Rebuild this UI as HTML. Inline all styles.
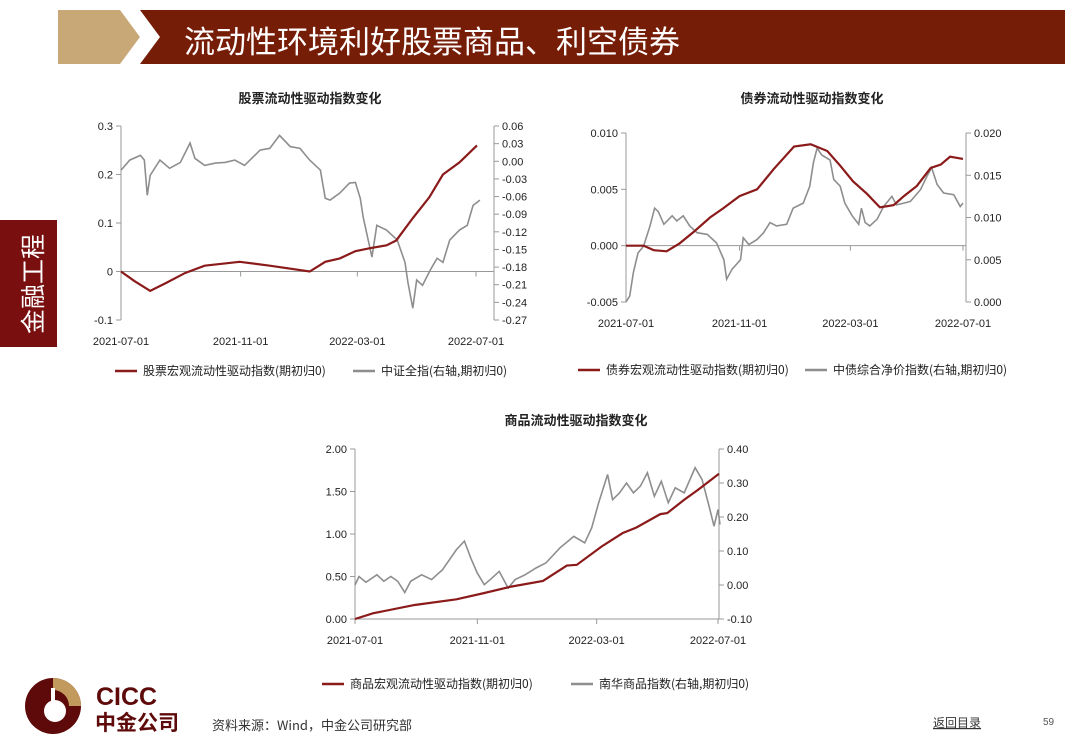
<!DOCTYPE html>
<html><head><meta charset="utf-8"><style>
body{margin:0;width:1080px;height:755px;background:#fff;overflow:hidden;font-family:"Liberation Sans","Noto Sans CJK SC",sans-serif;}
svg{position:absolute;left:0;top:0}
</style></head><body>
<svg id="s" width="1080" height="755" xmlns="http://www.w3.org/2000/svg">
<polygon points="58,10 120,10 140,37 120,64 58,64" fill="#c9a878"/>
<polygon points="140,10 1065,10 1065,64 140,64 160,37" fill="#761d08"/>
<text x="184" y="53" fill="#fff" font-size="31" font-family="Noto Sans CJK SC,sans-serif">流动性环境利好股票商品、利空债券</text>
<rect x="0" y="220" width="57" height="127" fill="#7a0f0f"/>
<text x="0" y="0" transform="translate(42,334) rotate(-90)" fill="#fff" font-size="25" font-family="Noto Sans CJK SC,sans-serif">金融工程</text>
<g>
<circle cx="53" cy="706" r="28" fill="#5e0a0a"/>
<path d="M53,678 A28,28 0 0,1 81,706 L69,706 A16,16 0 0,0 53,690 Z" fill="#c29a5e"/>
<circle cx="55" cy="711" r="11" fill="#fff"/>
<rect x="51" y="688" width="4" height="20" fill="#fff"/>
<text x="96" y="705" fill="#5e0a0a" font-size="25" font-weight="bold">CICC</text>
<text x="95" y="730" fill="#5e0a0a" font-size="21" font-weight="bold" font-family="Noto Sans CJK SC,sans-serif">中金公司</text>
</g>
<text x="212" y="730" font-size="13" fill="#333" font-family="Noto Sans CJK SC,sans-serif">资料来源：Wind，中金公司研究部</text>
<text x="933" y="727" font-size="12" fill="#333" text-decoration="underline" font-family="Noto Sans CJK SC,sans-serif">返回目录</text>
<text x="1043" y="725" font-size="10" fill="#555">59</text>
</svg>
<script>
// date ticks (days from 2021-07-01)
const tickDays=[0,123,243,365];
const tickLabels=["2021-07-01","2021-11-01","2022-03-01","2022-07-01"];
// Chart 1: stock
const c1RedDays=[0,14,30,45,66,86,122,153,194,202,210,225,241,256,273,283,300,317,331,348,366];
const c1RedVals=[0,-0.02,-0.04,-0.025,-0.003,0.012,0.02,0.012,0,0.01,0.02,0.027,0.042,0.048,0.054,0.064,0.11,0.153,0.2,0.225,0.26];
const c1GrayDays=[0,9,20,24,27,30,40,50,61,71,76,86,97,107,117,127,143,153,163,174,184,194,205,210,215,225,235,241,246,249,258,263,273,284,292,295,300,304,310,318,325,331,338,348,356,362,369];
const c1GrayVals=[-0.015,0.002,0.01,0.002,-0.058,-0.024,0.002,-0.012,-0.002,0.031,0.005,-0.007,-0.003,-0.002,0.002,-0.007,0.019,0.022,0.044,0.025,0.022,0.002,-0.015,-0.063,-0.066,-0.054,-0.037,-0.036,-0.063,-0.095,-0.163,-0.109,-0.117,-0.134,-0.172,-0.206,-0.25,-0.202,-0.211,-0.185,-0.165,-0.172,-0.134,-0.117,-0.109,-0.075,-0.066];
const c1LeftTicks=[0.3,0.2,0.1,0,-0.1];
const c1LeftLabels=["0.3","0.2","0.1","0","-0.1"];
const c1RightTicks=[0.06,0.03,0,-0.03,-0.06,-0.09,-0.12,-0.15,-0.18,-0.21,-0.24,-0.27];
const c1RightLabels=["0.06","0.03","0.00","-0.03","-0.06","-0.09","-0.12","-0.15","-0.18","-0.21","-0.24","-0.27"];
// Chart 2: bond
const c2RedDays=[0,19,30,44,58,73,91,105,123,142,160,182,200,218,232,246,261,275,290,301,315,330,341,351,365];
const c2RedVals=[0,0,-0.0004,-0.0005,0.0002,0.0012,0.0025,0.0033,0.0044,0.005,0.0068,0.0088,0.009,0.0084,0.0071,0.0057,0.0046,0.0034,0.0036,0.0044,0.0053,0.0069,0.0072,0.0079,0.0077];
const c2GrayDays=[0,4,8,13,19,26,31,35,41,50,55,62,69,77,88,98,106,109,115,124,127,133,142,149,156,163,174,181,192,199,203,207,212,221,225,232,237,245,252,255,259,264,272,279,288,293,301,308,319,326,331,337,344,355,362,365];
const c2GrayVals=[0,0.0007,0.0035,0.0058,0.0066,0.009,0.0111,0.0107,0.0092,0.0102,0.0096,0.0102,0.009,0.0082,0.008,0.007,0.005,0.0027,0.0039,0.005,0.0076,0.0068,0.0074,0.0082,0.0094,0.009,0.0092,0.0111,0.0117,0.0137,0.0165,0.0182,0.0174,0.0168,0.0145,0.0137,0.0117,0.0102,0.0092,0.0111,0.0094,0.009,0.0098,0.0113,0.0125,0.0115,0.0117,0.0119,0.0133,0.0149,0.0159,0.0139,0.0129,0.0127,0.0113,0.0117];
const c2LeftTicks=[0.01,0.005,0,-0.005];
const c2LeftLabels=["0.010","0.005","0.000","-0.005"];
const c2RightTicks=[0.02,0.015,0.01,0.005,0];
const c2RightLabels=["0.020","0.015","0.010","0.005","0.000"];
// Chart 3: commodity
const c3RedDays=[0,18,60,102,129,157,189,213,223,248,269,283,307,314,331,345,366];
const c3RedVals=[0,0.067,0.165,0.232,0.303,0.381,0.448,0.629,0.637,0.853,1.01,1.077,1.234,1.246,1.403,1.521,1.709];
const c3GrayDays=[0,4,11,22,29,36,43,50,56,67,77,88,102,110,117,123,130,136,145,154,161,171,182,192,206,220,231,238,245,254,259,266,273,280,287,294,301,308,315,322,331,342,349,356,361,365,367];
const c3GrayVals=[0,0.025,0.008,0.03,0.011,0.025,0.011,-0.022,0.011,0.03,0.016,0.045,0.104,0.129,0.075,0.035,0.001,0.016,0.04,-0.009,0.016,0.03,0.05,0.065,0.109,0.143,0.124,0.168,0.242,0.325,0.251,0.271,0.3,0.271,0.291,0.33,0.261,0.305,0.242,0.286,0.271,0.345,0.31,0.232,0.173,0.222,0.178];
const c3LeftTicks=[2,1.5,1,0.5,0];
const c3LeftLabels=["2.00","1.50","1.00","0.50","0.00"];
const c3RightTicks=[0.4,0.3,0.2,0.1,0,-0.1];
const c3RightLabels=["0.40","0.30","0.20","0.10","0.00","-0.10"];

const NS="http://www.w3.org/2000/svg";
const svg=document.getElementById('s');
function mk(tag,attrs,parent){const e=document.createElementNS(NS,tag);for(const k in attrs)e.setAttribute(k,attrs[k]);(parent||svg).appendChild(e);return e;}
const RED="#8b1a1a",GRAY="#8e8e8e",AX="#999";

function chart(cfg){
  const g=mk('g',{});
  
  
  const xs=d=>cfg.x0+(cfg.x1-cfg.x0)*d/365;
  const yl=v=>cfg.top+(cfg.lMax-v)/(cfg.lMax-cfg.lMin)*(cfg.bot-cfg.top);
  const yr=v=>cfg.top+(cfg.rMax-v)/(cfg.rMax-cfg.rMin)*(cfg.bot-cfg.top);
  const t=mk('text',{x:cfg.tx,y:cfg.ty,'text-anchor':'middle','font-size':13,'font-weight':'bold',fill:'#222','font-family':'Noto Sans CJK SC,sans-serif'},g);
  t.textContent=cfg.title;
  
  
  // left axis
  const la=mk('line',{x1:cfg.x0,y1:cfg.top,x2:cfg.x0,y2:cfg.bot,stroke:AX},g);
  
  
  cfg.lT.forEach((v,i)=>{mk('line',{x1:cfg.x0-5,x2:cfg.x0,y1:yl(v),y2:yl(v),stroke:AX},g);
    const tt=mk('text',{x:cfg.x0-8,y:yl(v)+4,'text-anchor':'end','font-size':11,fill:'#222'},g);tt.textContent=cfg.lL[i];
    
    });
  const ra=mk('line',{x1:cfg.xr,y1:cfg.top,x2:cfg.xr,y2:cfg.bot,stroke:AX},g);
  
  
  cfg.rT.forEach((v,i)=>{mk('line',{x1:cfg.xr,x2:cfg.xr+5,y1:yr(v),y2:yr(v),stroke:AX},g);
    const tt=mk('text',{x:cfg.xr+8,y:yr(v)+4,'font-size':11,fill:'#222'},g);tt.textContent=cfg.rL[i];
    
    });
  const xa=yl(cfg.xAxisAt);
  const xl=mk('line',{x1:cfg.x0,y1:xa,x2:cfg.xr,y2:xa,stroke:AX},g);
  
  
  tickDays.forEach((d,i)=>{mk('line',{x1:xs(d),x2:xs(d),y1:xa,y2:xa+5,stroke:AX},g);
    const tt=mk('text',{x:xs(d),y:cfg.bot+25,'text-anchor':'middle','font-size':11,fill:'#222'},g);tt.textContent=tickLabels[i];
    
    });
  const gp=mk('polyline',{points:cfg.gD.map((d,i)=>xs(d)+','+yr(cfg.gV[i])).join(' '),fill:'none',stroke:GRAY,'stroke-width':1.6},g);
  
  
  const rp=mk('polyline',{points:cfg.rD.map((d,i)=>xs(d)+','+yl(cfg.rV[i])).join(' '),fill:'none',stroke:RED,'stroke-width':2.2},g);
  
  
  // legend
  const l1=mk('line',{x1:cfg.lg[0],x2:cfg.lg[0]+22,y1:cfg.lgy,y2:cfg.lgy,stroke:RED,'stroke-width':2.5},g);
  
  
  const lt1=mk('text',{x:cfg.lg[0]+28,y:cfg.lgy+4,'font-size':12,fill:'#222','font-family':'Noto Sans CJK SC,sans-serif'},g);lt1.textContent=cfg.lgT[0];
  
  
  const l2=mk('line',{x1:cfg.lg[1],x2:cfg.lg[1]+22,y1:cfg.lgy,y2:cfg.lgy,stroke:GRAY,'stroke-width':2.5},g);
  
  
  const lt2=mk('text',{x:cfg.lg[1]+28,y:cfg.lgy+4,'font-size':12,fill:'#222','font-family':'Noto Sans CJK SC,sans-serif'},g);lt2.textContent=cfg.lgT[1];
  
  
}
chart({name:'stock-liquidity-chart',title:'股票流动性驱动指数变化',tx:310,ty:103,x0:121,x1:476,xr:494,top:126,bot:320,
  lMax:0.3,lMin:-0.1,rMax:0.06,rMin:-0.27,lT:c1LeftTicks,lL:c1LeftLabels,rT:c1RightTicks,rL:c1RightLabels,xAxisAt:0,
  rD:c1RedDays,rV:c1RedVals,gD:c1GrayDays,gV:c1GrayVals,lg:[115,353],lgy:371,lgT:['股票宏观流动性驱动指数(期初归0)','中证全指(右轴,期初归0)']});
chart({name:'bond-liquidity-chart',title:'债券流动性驱动指数变化',tx:812,ty:103,x0:626,x1:963,xr:966,top:133,bot:302,
  lMax:0.01,lMin:-0.005,rMax:0.02,rMin:0,lT:c2LeftTicks,lL:c2LeftLabels,rT:c2RightTicks,rL:c2RightLabels,xAxisAt:0,
  rD:c2RedDays,rV:c2RedVals,gD:c2GrayDays,gV:c2GrayVals,lg:[578,805],lgy:370,lgT:['债券宏观流动性驱动指数(期初归0)','中债综合净价指数(右轴,期初归0)']});
chart({name:'commodity-liquidity-chart',title:'商品流动性驱动指数变化',tx:576,ty:425,x0:355,x1:718,xr:719,top:449,bot:619,
  lMax:2,lMin:0,rMax:0.4,rMin:-0.1,lT:c3LeftTicks,lL:c3LeftLabels,rT:c3RightTicks,rL:c3RightLabels,xAxisAt:0,
  rD:c3RedDays,rV:c3RedVals,gD:c3GrayDays,gV:c3GrayVals,lg:[322,571],lgy:684,lgT:['商品宏观流动性驱动指数(期初归0)','南华商品指数(右轴,期初归0)']});
</script>
</body></html>
